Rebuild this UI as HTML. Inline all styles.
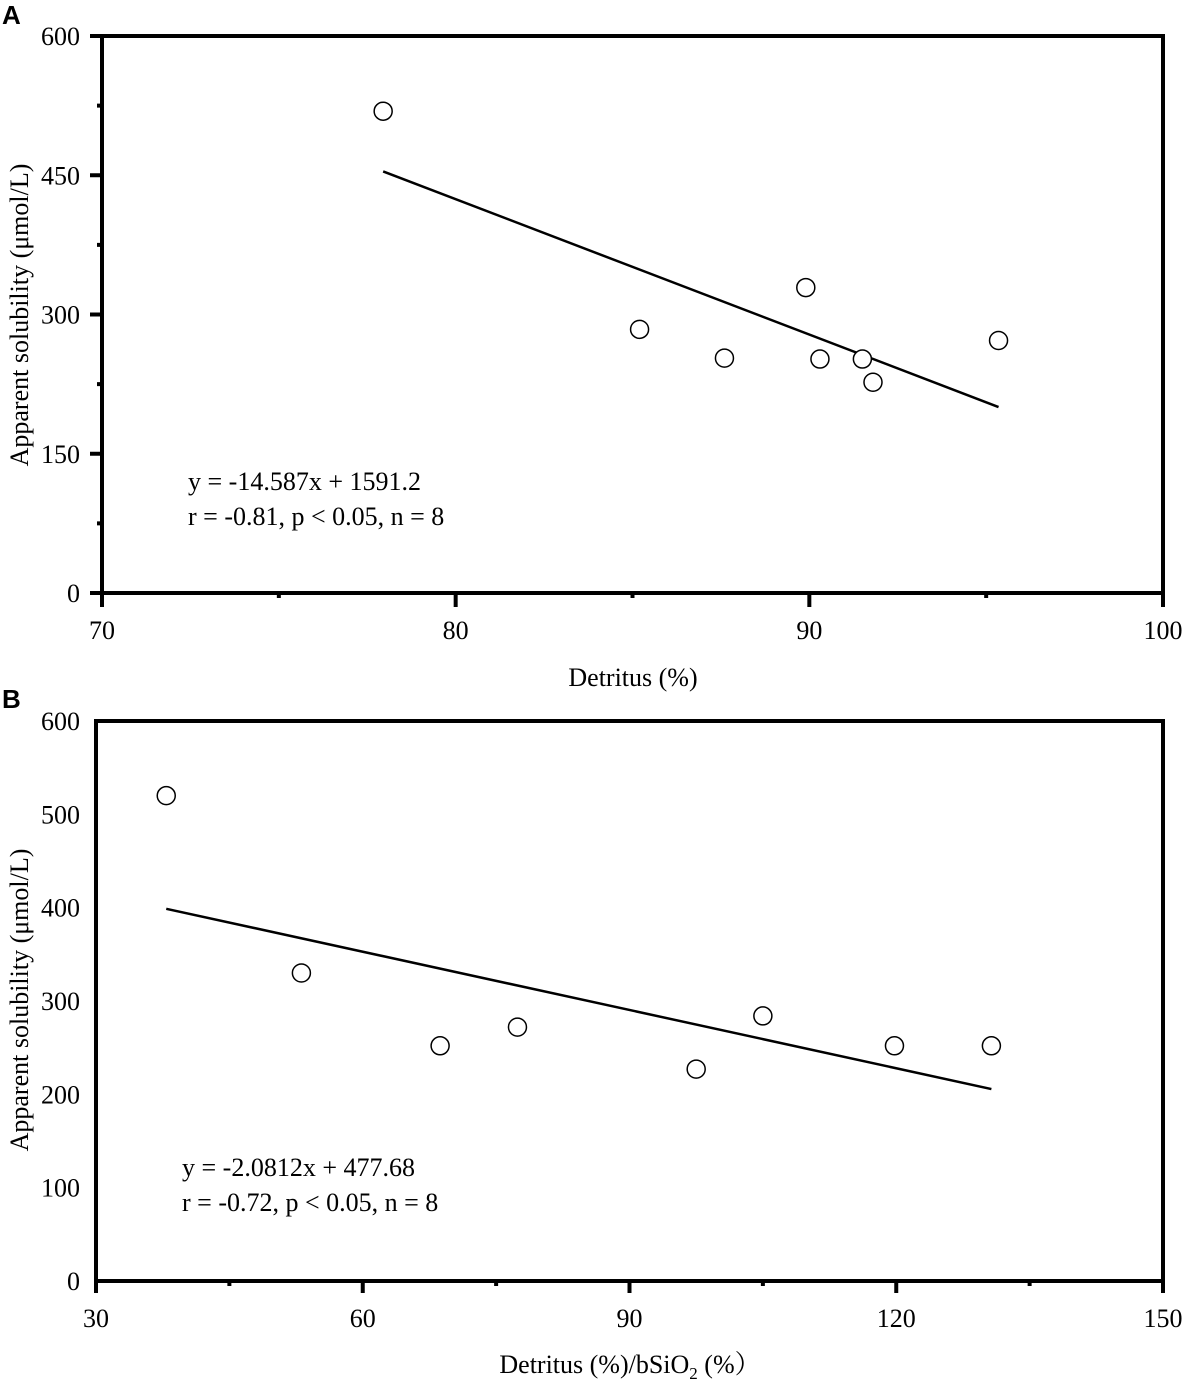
<!DOCTYPE html>
<html><head><meta charset="utf-8"><style>
body{margin:0;background:#fff;}
svg{display:block;font-family:"Liberation Serif","Noto Serif CJK SC",serif;}
</style></head><body>
<svg id="c" width="1184" height="1384" viewBox="0 0 1184 1384"></svg>
<script>
const aX=[77.95,85.2,87.6,89.9,90.3,91.5,91.8,95.35];
const aY=[519,284,253,329,252,252,227,272];
const aXTicks=[70,80,90,100];
const aYTicks=[0,150,300,450,600];
const bX=[37.9,53.1,68.7,77.4,97.5,105,119.8,130.7];
const bY=[520,330,252,272,227,284,252,252];
const bXTicks=[30,60,90,120,150];
const bYTicks=[0,100,200,300,400,500,600];
const aFit=[-14.587,1591.2];
const bFit=[-2.0812,477.68];

const NS="http://www.w3.org/2000/svg";
const svg=document.getElementById('c');
function mk(t,at,p){const e=document.createElementNS(NS,t);for(const k in at)e.setAttribute(k,at[k]);(p||svg).appendChild(e);return e;}

function panel(o){
  const g=mk('g',{});
  
  
  const sx=v=>o.x0+(v-o.xmin)/(o.xmax-o.xmin)*(o.x1-o.x0);
  const sy=v=>o.y0-(v-o.ymin)/(o.ymax-o.ymin)*(o.y0-o.y1);
  const f=mk('rect',{x:o.x0,y:o.y1,width:o.x1-o.x0,height:o.y0-o.y1,fill:'none',stroke:'#000','stroke-width':4},g);
  
  
  o.xt.forEach((v,i)=>{
    const x=sx(v);
    mk('line',{x1:x,x2:x,y1:o.y0,y2:o.y0+o.majX,stroke:'#000','stroke-width':4},g);
    if(i<o.xt.length-1){const xm=sx(v+(o.xt[1]-o.xt[0])/2);mk('line',{x1:xm,x2:xm,y1:o.y0,y2:o.y0+5,stroke:'#000','stroke-width':4},g);}
    const t=mk('text',{x:x,y:o.y0+46,'text-anchor':'middle','font-size':26},g);
    t.textContent=v;
    
    
  });
  o.yt.forEach((v,i)=>{
    const y=sy(v);
    if(o.yTicks){
      mk('line',{x1:o.x0-12,x2:o.x0,y1:y,y2:y,stroke:'#000','stroke-width':4},g);
      if(i<o.yt.length-1){const ym=sy(v+(o.yt[1]-o.yt[0])/2);mk('line',{x1:o.x0-5,x2:o.x0,y1:ym,y2:ym,stroke:'#000','stroke-width':4},g);}
    }
    const t=mk('text',{x:80,y:y+9,'text-anchor':'end','font-size':26},g);
    t.textContent=v;
    
    
  });
  const xa=Math.min(...o.px),xb=Math.max(...o.px);
  const ln=mk('line',{x1:sx(xa),y1:sy(o.fit[0]*xa+o.fit[1]),x2:sx(xb),y2:sy(o.fit[0]*xb+o.fit[1]),stroke:'#000','stroke-width':2.5},g);
  
  
  o.px.forEach((v,i)=>{
    const c=mk('circle',{cx:sx(v),cy:sy(o.py[i]),r:9,fill:'#fff',stroke:'#000','stroke-width':1.5},g);
    
    
  });
}
panel({name:'panel-a',x0:102,x1:1163,y0:593,y1:36,xmin:70,xmax:100,ymin:0,ymax:600,xt:aXTicks,yt:aYTicks,px:aX,py:aY,fit:aFit,majX:14,yTicks:true});
panel({name:'panel-b',x0:96,x1:1163,y0:1281,y1:721,xmin:30,xmax:150,ymin:0,ymax:600,xt:bXTicks,yt:bYTicks,px:bX,py:bY,fit:bFit,majX:12,yTicks:false});

function txt(x,y,s,size,name,anchor,extra){
  const t=mk('text',Object.assign({x:x,y:y,'font-size':size,'text-anchor':anchor||'start'},extra||{}));
  t.innerHTML=s;
  
  
  return t;
}
txt(2,24,'A',26,'panel-a-label','start',{'font-family':'Liberation Sans, sans-serif','font-weight':'bold'});
txt(2,708,'B',26,'panel-b-label','start',{'font-family':'Liberation Sans, sans-serif','font-weight':'bold'});
txt(633,686,'Detritus (%)',26,'x-axis-title-a','middle');
txt(630,1373,'Detritus (%)/bSiO<tspan font-size="17" dy="6">2</tspan><tspan dy="-6"> (%）</tspan>',26,'x-axis-title-b','middle');
txt(0,0,'Apparent solubility (μmol/L)',26,'y-axis-title-a','middle',{transform:'translate(28,315) rotate(-90)'});
txt(0,0,'Apparent solubility (μmol/L)',26,'y-axis-title-b','middle',{transform:'translate(28,1000) rotate(-90)'});
txt(188,490,'y = -14.587x + 1591.2',26,'equation-a');
txt(188,525,'r = -0.81, p &lt; 0.05, n = 8',26,'stats-a');
txt(182,1176,'y = -2.0812x + 477.68',26,'equation-b');
txt(182,1211,'r = -0.72, p &lt; 0.05, n = 8',26,'stats-b');
</script>
</body></html>
